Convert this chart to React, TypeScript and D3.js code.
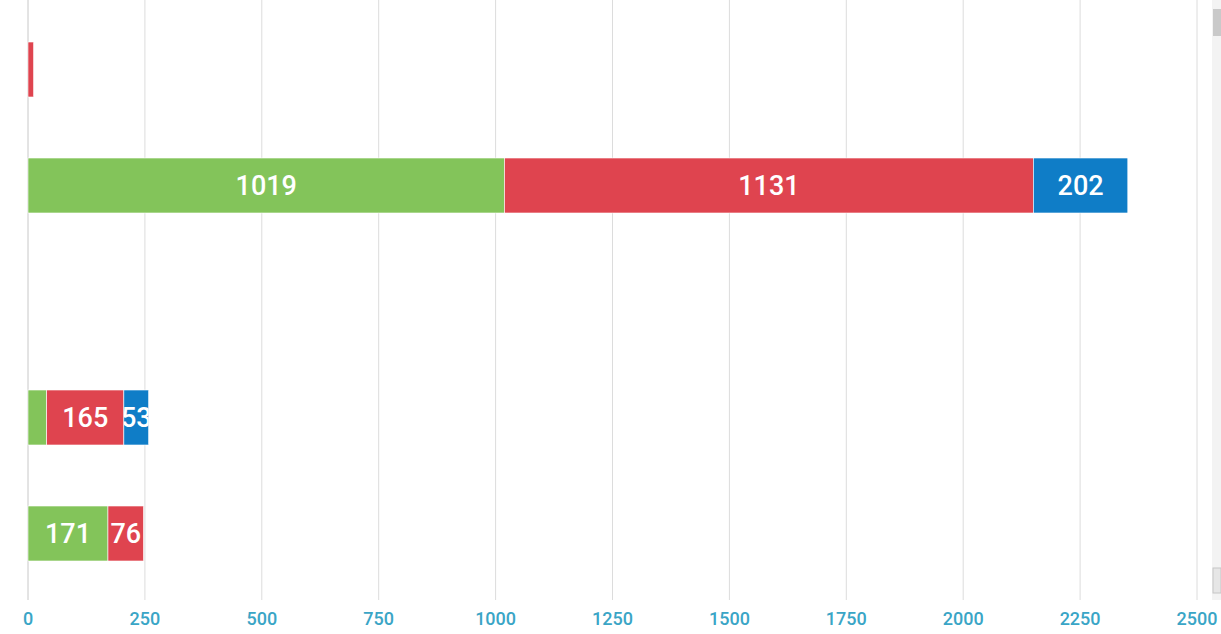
import React from "react";
import * as d3 from "d3";

const categories = ["A", "B", "C", "D", "E"];
const seriesNames = ["green", "red", "blue"];
const greenValues = [0, 1019, 0, 40, 171];
const redValues = [12, 1131, 0, 165, 76];
const blueValues = [0, 202, 0, 53, 0];
const xTicks = [0, 250, 500, 750, 1000, 1250, 1500, 1750, 2000, 2250, 2500];
const colors = ["#83c45a", "#df444f", "#0f7dc7"];

const W = 1221;
const H = 634;
const left = 28;
const right = 1197;
const top = 11.5;
const bottom = 591.5;

export default function App() {
  const x = d3.scaleLinear().domain([0, 2500]).range([left, right]);
  const y = d3
    .scaleBand<string>()
    .domain(categories)
    .range([top, bottom])
    .paddingInner(0.526)
    .paddingOuter(0.263);

  const rows = categories.map((c, i) => ({
    cat: c,
    green: greenValues[i],
    red: redValues[i],
    blue: blueValues[i],
  }));
  const stack = d3.stack<any>().keys(seriesNames)(rows);

  const bw = y.bandwidth();
  return (
    <svg
      width={W}
      height={H}
      style={{ position: "absolute", left: 0, top: 0, background: "#fff" }}
      fontFamily="Roboto, sans-serif"
    >
      <defs>
        {stack.map((s, si) =>
          s.map((d, i) => (
            <clipPath id={`clip-${si}-${i}`} key={`${si}-${i}`}>
              <rect
                x={x(d[0])}
                y={y(categories[i])!}
                width={Math.max(0, x(d[1]) - x(d[0]))}
                height={bw}
              />
            </clipPath>
          ))
        )}
      </defs>
      {xTicks.map((t) => (
        <line
          key={t}
          x1={x(t)}
          x2={x(t)}
          y1={0}
          y2={600}
          stroke={t === 0 ? "#c8c8c8" : "#dcdcdc"}
          strokeWidth={1}
        />
      ))}
      {stack.map((s, si) =>
        s.map((d, i) => {
          const w = x(d[1]) - x(d[0]);
          if (w <= 0) return null;
          return (
            <rect
              key={`r-${si}-${i}`}
              x={x(d[0])}
              y={y(categories[i])!}
              width={w}
              height={bw}
              fill={colors[si]}
              stroke="#fff"
              strokeWidth={0.6}
            />
          );
        })
      )}
      {stack.map((s, si) =>
        s.map((d, i) => {
          const w = x(d[1]) - x(d[0]);
          const v = d[1] - d[0];
          if (w < 22) return null;
          return (
            <text
              key={`t-${si}-${i}`}
              x={(x(d[0]) + x(d[1])) / 2}
              y={y(categories[i])! + bw / 2}
              dy="0.36em"
              textAnchor="middle"
              fill="#fff"
              fontSize={27}
              fontWeight={500}
              clipPath={`url(#clip-${si}-${i})`}
            >
              {v}
            </text>
          );
        })
      )}
      {xTicks.map((t) => (
        <text
          key={`l-${t}`}
          x={x(t)}
          y={625}
          textAnchor="middle"
          fill="#3aa5c6"
          fontSize={18}
          fontWeight={500}
        >
          {t}
        </text>
      ))}
      <rect x={1212} y={0} width={9} height={600} fill="#f3f3f3" />
      <rect x={1213} y={9} width={8} height={27} fill="#c9c9c9" />
      <rect x={1213} y={568} width={8} height={25} fill="#e6e6e6" stroke="#c6c6c6" strokeWidth={1} />
    </svg>
  );
}
